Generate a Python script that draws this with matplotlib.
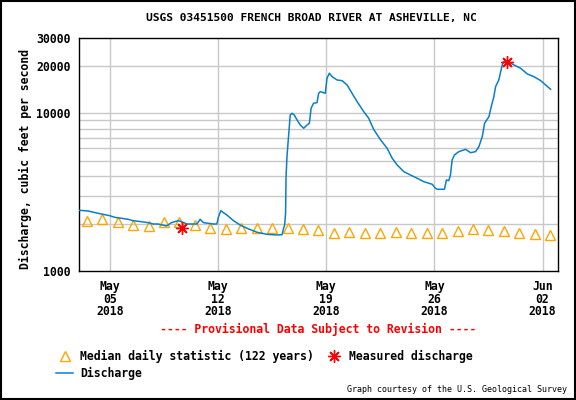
import pandas as pd
import matplotlib
matplotlib.use('Agg')
import matplotlib.pyplot as plt
from matplotlib.lines import Line2D
from matplotlib.patches import Rectangle

# dados (dias desde 03/05/2018 00:00, vazao em cfs)
inicio = pd.Timestamp('2018-05-03')

vazao_dias = [0.00, 0.58, 1.23, 1.99, 2.31, 2.74, 3.18, 3.50, 4.04, 4.47,
              4.80, 5.12, 5.66, 5.98, 6.42, 6.63, 6.98, 7.63, 7.84, 8.06,
              8.70, 8.92, 9.03, 9.18, 9.35, 9.57, 10.00, 10.43, 10.87, 11.52,
              12.16, 12.81, 13.14, 13.24, 13.31, 13.37, 13.40, 13.46, 13.56, 13.67,
              13.78, 13.93, 14.11, 14.32, 14.54, 14.76, 14.91, 15.02, 15.18, 15.40,
              15.51, 15.62, 15.94, 16.05, 16.20, 16.38, 16.70, 17.03, 17.35, 17.67,
              18.00, 18.43, 18.75, 19.07, 19.51, 19.94, 20.27, 20.59, 21.02, 21.45,
              21.89, 22.31, 22.86, 23.07, 23.18, 23.65, 23.78, 23.93, 24.04, 24.15,
              24.30, 24.58, 25.02, 25.34, 25.66, 25.88, 26.10, 26.25, 26.53, 26.68,
              26.85, 26.96, 27.17, 27.39, 27.56, 27.72, 28.15, 28.58, 29.01, 29.44,
              29.88, 30.20, 30.52]
vazao_cfs = [2426, 2402, 2322, 2242, 2190, 2159, 2127, 2084, 2054, 2025,
             1986, 1986, 1929, 2025, 2084, 2054, 1986, 1986, 2127, 2025,
             1986, 1986, 2210, 2412, 2342, 2265, 2084, 1957, 1866, 1760,
             1709, 1692, 1699, 1866, 1957, 2332, 3963, 5305, 7107, 9755,
             10000, 9755, 9069, 8430, 8033, 8430, 8642, 10758, 11571, 11673,
             13391, 13709, 13391, 16670, 17931, 17064, 16260, 16093, 15114, 13391,
             11847, 10236, 9296, 7900, 6800, 5999, 5184, 4701, 4263, 4062,
             3871, 3684, 3546, 3345, 3297, 3297, 3776, 3738, 4062, 5057,
             5441, 5707, 5910, 5625, 5707, 6140, 7107, 8642, 9515, 11010,
             12743, 14747, 16260, 20245, 21777, 21243, 20245, 19294, 17750, 17064,
             16093, 15114, 14199]

# mediana diaria (122 anos), um valor por dia de 03/05 a 02/06
mediana_cfs = [2084, 2127, 2045, 1966, 1929, 2036, 2036, 1966, 1874, 1855,
               1882, 1882, 1882, 1860, 1839, 1812, 1750, 1760, 1750, 1734,
               1760, 1734, 1734, 1734, 1785, 1839, 1812, 1785, 1734, 1709,
               1684]

medido_dias = [6.66, 27.67]
medido_cfs = [1866, 21240]

ticks_datas = ['2018-05-05', '2018-05-12', '2018-05-19', '2018-05-26', '2018-06-02']
grade_y = [2000, 3000, 4000, 5000, 6000, 7000, 8000, 9000, 10000, 20000]
ticks_y = [1000, 10000, 20000, 30000]

fonte = 'DejaVu Sans Mono'
azul = '#0a7fc8'
laranja = '#ffa500'

fig = plt.figure(figsize=(5.76, 4), dpi=100)
ax = fig.add_axes([79 / 576, 1 - 271 / 400, 479 / 576, 233 / 400])

t_vazao = inicio + pd.to_timedelta(vazao_dias, unit='D')
t_mediana = pd.date_range('2018-05-03 12:00', periods=len(mediana_cfs), freq='D')
t_medido = inicio + pd.to_timedelta(medido_dias, unit='D')

ax.set_yscale('log')
ax.set_ylim(1000, 30000)
ax.set_xlim(pd.Timestamp('2018-05-03'), pd.Timestamp('2018-06-03'))

# grade cinza (linhas de 2000 a 10000 e 20000)
for v in grade_y:
    ax.axhline(v, color='#c8c8c8', lw=1.0, zorder=0)
for d in ticks_datas:
    ax.axvline(pd.Timestamp(d), color='#c8c8c8', lw=1.0, zorder=0)

ax.plot(t_mediana, mediana_cfs, linestyle='none', marker='^', ms=7.5,
        mfc='none', mec=laranja, mew=1.0, zorder=2)
ax.plot(t_vazao, vazao_cfs, color=azul, lw=1.1, zorder=3)
ax.plot(t_medido, medido_cfs, linestyle='none', marker=(8, 2, 0), ms=9,
        color='red', mew=1.0, zorder=4)

ax.set_yticks(ticks_y)
ax.set_yticklabels([str(v) for v in ticks_y])
ax.yaxis.set_minor_locator(matplotlib.ticker.NullLocator())
ax.set_xticks([pd.Timestamp(d) for d in ticks_datas])
ax.set_xticklabels([pd.Timestamp(d).strftime('%b\n%d\n%Y') for d in ticks_datas],
                   linespacing=0.95)
ax.tick_params(axis='both', length=0, labelsize=8.3)
ax.tick_params(axis='y', pad=6)
ax.tick_params(axis='x', pad=6.5)
for lab in ax.get_xticklabels() + ax.get_yticklabels():
    lab.set_fontfamily(fonte)
    lab.set_fontweight('bold')
for s in ax.spines.values():
    s.set_linewidth(1.0)
    s.set_color('black')

fig.text(311 / 576, 1 - 18 / 400, 'USGS 03451500 FRENCH BROAD RIVER AT ASHEVILLE, NC',
         ha='center', va='center', fontsize=8.1, fontweight='bold', family=fonte)
fig.text(25 / 576, 1 - 159 / 400, 'Discharge, cubic feet per second', rotation=90,
         ha='center', va='center', fontsize=8.3, fontweight='bold', family=fonte)
fig.text(318 / 576, 1 - 329 / 400, '---- Provisional Data Subject to Revision ----',
         ha='center', va='center', fontsize=8.3, fontweight='bold', family=fonte, color='red')
fig.text(567 / 576, 1 - 390 / 400, 'Graph courtesy of the U.S. Geological Survey',
         ha='right', va='center', fontsize=6, family=fonte)

# legenda em duas colunas
alcas = [
    Line2D([], [], linestyle='none', marker='^', ms=7.5, mfc='none', mec=laranja, mew=1.0),
    Line2D([], [], color=azul, lw=1.1),
    Line2D([], [], linestyle='none', marker=(8, 2, 0), ms=9, color='red', mew=1.0),
]
rotulos = ['Median daily statistic (122 years)', 'Discharge', 'Measured discharge']
fig.legend(alcas, rotulos, loc='upper left', bbox_to_anchor=(56 / 576, 1 - 349.5 / 400),
           ncol=2, frameon=False, borderpad=0, borderaxespad=0, handlelength=1.5,
           handletextpad=0.6, columnspacing=0.95, labelspacing=0.35,
           prop={'family': fonte, 'weight': 'bold', 'size': 8.3})

# moldura da figura
fig.add_artist(Rectangle((0.001, 0.002), 0.997, 0.996, transform=fig.transFigure,
                         fill=False, edgecolor='black', lw=1.5))

fig.savefig('out.png', dpi=100)
